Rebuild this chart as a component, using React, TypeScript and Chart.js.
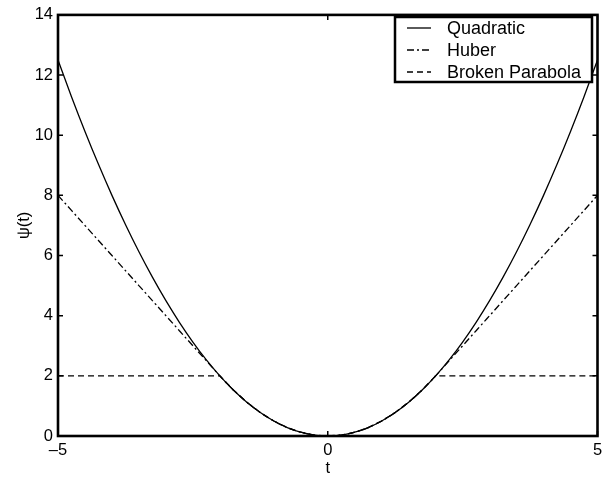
import React, { useEffect, useRef } from "react";
import { Chart, registerables } from "chart.js";

Chart.register(...registerables);

// sample positions along t
const tValues = [
  -5, -4.75, -4.5, -4.25, -4, -3.75, -3.5, -3.25, -3, -2.75, -2.5, -2.25, -2,
  -1.75, -1.5, -1.25, -1, -0.75, -0.5, -0.25, 0, 0.25, 0.5, 0.75, 1, 1.25, 1.5,
  1.75, 2, 2.25, 2.5, 2.75, 3, 3.25, 3.5, 3.75, 4, 4.25, 4.5, 4.75, 5,
];

const quadraticValues = [
  12.5, 11.28, 10.125, 9.031, 8, 7.031, 6.125, 5.281, 4.5, 3.781, 3.125, 2.531,
  2, 1.531, 1.125, 0.781, 0.5, 0.281, 0.125, 0.031, 0, 0.031, 0.125, 0.281, 0.5,
  0.781, 1.125, 1.531, 2, 2.531, 3.125, 3.781, 4.5, 5.281, 6.125, 7.031, 8,
  9.031, 10.125, 11.28, 12.5,
];

const huberValues = [
  8, 7.5, 7, 6.5, 6, 5.5, 5, 4.5, 4, 3.5, 3, 2.5, 2, 1.531, 1.125, 0.781, 0.5,
  0.281, 0.125, 0.031, 0, 0.031, 0.125, 0.281, 0.5, 0.781, 1.125, 1.531, 2, 2.5,
  3, 3.5, 4, 4.5, 5, 5.5, 6, 6.5, 7, 7.5, 8,
];

const brokenParabolaValues = [
  2, 2, 2, 2, 2, 2, 2, 2, 2, 2, 2, 2, 2, 1.531, 1.125, 0.781, 0.5, 0.281, 0.125,
  0.031, 0, 0.031, 0.125, 0.281, 0.5, 0.781, 1.125, 1.531, 2, 2, 2, 2, 2, 2, 2,
  2, 2, 2, 2, 2, 2,
];

const seriesLabels = ["Quadratic", "Huber", "Broken Parabola"];
const xTicks = [-5, 0, 5];
const yTicks = [0, 2, 4, 6, 8, 10, 12, 14];

const FONT = "'Liberation Sans', Arial, Helvetica, sans-serif";

const toPoints = (ys: number[]) => tValues.map((t, i) => ({ x: t, y: ys[i] }));

// box around the axes with inward ticks on every side
const framePlugin = {
  id: "frame",
  afterDraw(chart: any) {
    const { ctx, chartArea: a, scales } = chart;
    ctx.save();
    ctx.strokeStyle = "#000";
    ctx.lineWidth = 1.5;
    const tl = 5;
    ctx.beginPath();
    for (const v of yTicks) {
      const py = scales.y.getPixelForValue(v);
      ctx.moveTo(a.left, py);
      ctx.lineTo(a.left + tl, py);
      ctx.moveTo(a.right, py);
      ctx.lineTo(a.right - tl, py);
    }
    for (const v of xTicks) {
      const px = scales.x.getPixelForValue(v);
      ctx.moveTo(px, a.bottom);
      ctx.lineTo(px, a.bottom - tl);
      ctx.moveTo(px, a.top);
      ctx.lineTo(px, a.top + tl);
    }
    ctx.stroke();
    ctx.lineWidth = 2.6;
    ctx.strokeRect(a.left, a.top, a.right - a.left, a.bottom - a.top);
    ctx.restore();
  },
};

// boxed legend in the upper right corner
const legendPlugin = {
  id: "boxLegend",
  afterDraw(chart: any) {
    const { ctx } = chart;
    const x0 = 395, y0 = 17, w = 197, h = 65;
    ctx.save();
    ctx.fillStyle = "#fff";
    ctx.fillRect(x0, y0, w, h);
    ctx.strokeStyle = "#000";
    ctx.lineWidth = 2.5;
    ctx.strokeRect(x0, y0, w, h);
    ctx.font = `18px ${FONT}`;
    ctx.textBaseline = "middle";
    ctx.textAlign = "left";
    chart.data.datasets.forEach((ds: any, i: number) => {
      const ry = y0 + 11 + i * 22;
      ctx.beginPath();
      ctx.setLineDash(ds.borderDash || []);
      ctx.lineWidth = ds.borderWidth;
      ctx.moveTo(407, ry);
      ctx.lineTo(431, ry);
      ctx.stroke();
      ctx.setLineDash([]);
      ctx.fillStyle = "#000";
      ctx.fillText(ds.label, 447, ry + 1);
    });
    ctx.restore();
  },
};

export default function App() {
  const canvasRef = useRef<HTMLCanvasElement | null>(null);

  useEffect(() => {
    const canvas = canvasRef.current;
    if (!canvas) return;
    const chart = new Chart(canvas, {
      type: "line",
      data: {
        datasets: [
          {
            label: seriesLabels[0],
            data: toPoints(quadraticValues),
            borderColor: "#000",
            borderWidth: 1.3,
            pointRadius: 0,
            cubicInterpolationMode: "monotone",
          },
          {
            label: seriesLabels[1],
            data: toPoints(huberValues),
            borderColor: "#000",
            borderWidth: 1.3,
            borderDash: [7, 3, 2, 3],
            pointRadius: 0,
            cubicInterpolationMode: "monotone",
          },
          {
            label: seriesLabels[2],
            data: toPoints(brokenParabolaValues),
            borderColor: "#000",
            borderWidth: 1.3,
            borderDash: [6, 4],
            pointRadius: 0,
          },
        ],
      },
      options: {
        responsive: false,
        animation: false,
        layout: { padding: { top: 11, right: 15.5, left: 0, bottom: 0 } },
        plugins: {
          legend: { display: false },
          tooltip: { enabled: false },
        },
        scales: {
          x: {
            type: "linear",
            min: -5,
            max: 5,
            grid: { display: false, drawTicks: false },
            border: { display: false },
            afterBuildTicks: (s: any) => {
              s.ticks = xTicks.map((v) => ({ value: v }));
            },
            afterFit: (s: any) => {
              s.height = 43;
            },
            ticks: {
              padding: 5,
              color: "#000",
              font: { family: FONT, size: 16.5 },
              maxRotation: 0,
              callback: (v: any) => (Number(v) < 0 ? "\u2013" + Math.abs(Number(v)) : String(v)),
            },
            title: {
              display: true,
              text: "t",
              color: "#000",
              font: { family: FONT, size: 16.5 },
              padding: { top: 0, bottom: 0.5 },
            },
          },
          y: {
            type: "linear",
            min: 0,
            max: 14,
            grid: { display: false, drawTicks: false },
            border: { display: false },
            afterBuildTicks: (s: any) => {
              s.ticks = yTicks.map((v) => ({ value: v }));
            },
            afterFit: (s: any) => {
              s.width = 58;
            },
            ticks: {
              padding: 5,
              color: "#000",
              font: { family: FONT, size: 16.5 },
            },
            title: {
              display: true,
              text: "\u03c8(t)",
              color: "#000",
              font: { family: FONT, size: 16.5 },
              padding: { top: 15, bottom: 0 },
            },
          },
        },
      },
      plugins: [framePlugin, legendPlugin],
    });
    return () => chart.destroy();
  }, []);

  return (
    <div style={{ position: "fixed", left: 0, top: 0, width: 613, height: 479, background: "#fff" }}>
      <canvas ref={canvasRef} width={613} height={479} />
    </div>
  );
}
